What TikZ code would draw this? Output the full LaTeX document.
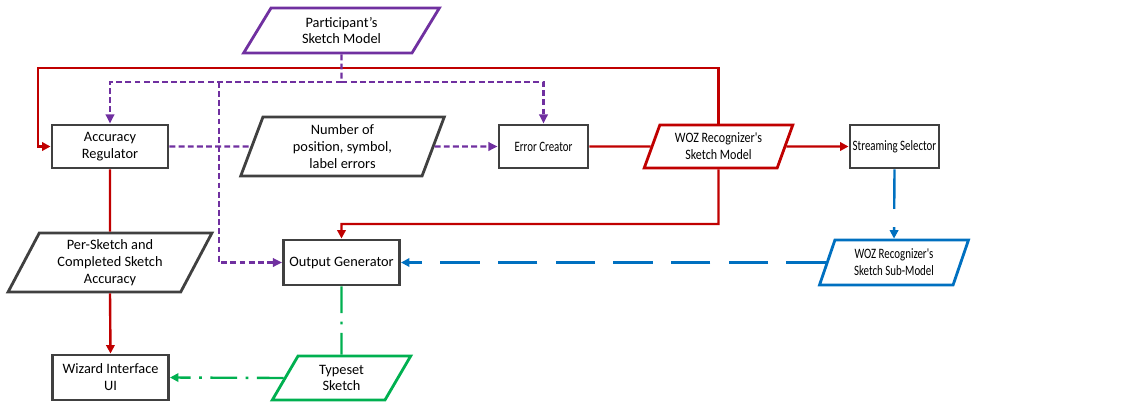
\documentclass[tikz,border=0pt]{standalone}
\usepackage{fontspec}
\setmainfont{Carlito}
\newfontfamily\narrowfont[FakeStretch=0.76]{Carlito}
\newfontfamily\semifont[FakeStretch=0.84]{Carlito}
\usepackage{xcolor}
\usetikzlibrary{arrows.meta,positioning,shapes.geometric}

\definecolor{regred}{HTML}{C00000}
\definecolor{partpurple}{HTML}{7030A0}
\definecolor{subblue}{HTML}{0070C0}
\definecolor{typegreen}{HTML}{00B050}
\definecolor{boxgray}{HTML}{404040}

\begin{document}
\begin{tikzpicture}[
  x=0.025cm, y=-0.025cm,
  box/.style={rectangle, draw=boxgray, line width=2.1pt, fill=white,
              align=center, font=\fontsize{10.2}{12}\selectfont, inner sep=1pt,
              minimum width=2.9cm, minimum height=1.075cm},
  databox/.style={trapezium, trapezium stretches=true, draw=#1,
                  line width=2pt, fill=white, align=center,
                  font=\fontsize{10.2}{12}\selectfont, inner sep=1pt},
  narrow/.style={font=\fontsize{10.2}{12}\narrowfont},
  seminarrow/.style={font=\fontsize{10.2}{12}\semifont},
  redline/.style={draw=regred, line width=1.7pt},
  redarr/.style={redline, -{Triangle[length=6pt,width=6pt]}},
  purpline/.style={draw=partpurple, line width=1.7pt,
                   dash pattern=on 4.2pt off 2.3pt},
  purparr/.style={purpline, -{Triangle[length=6.5pt,width=6pt]}},
  bluearr/.style={draw=subblue, line width=1.7pt,
                  dash pattern=on 28pt off 13pt,
                  -{Triangle[length=6pt,width=6pt]}},
  greenline/.style={draw=typegreen, line width=1.7pt,
                    dash pattern=on 19pt off 6pt on 2pt off 6pt},
  greenarr/.style={greenline, -{Triangle[length=6pt,width=6pt]}},
]
\useasboundingbox (0,0) rectangle (1138,403);

%% Top row -- participant model
\node[databox=partpurple, trapezium left angle=62, trapezium right angle=118,
      minimum width=4.925cm, minimum height=1.125cm] (part) at (341.5,30.5)
  {Participant's\\Sketch Model};

%% Middle row
\node[box] (acc) at (110,146.5) {Accuracy\\Regulator};
\node[databox=boxgray, trapezium left angle=73, trapezium right angle=107,
      minimum width=5.125cm, minimum height=1.475cm] (num) at (342.5,146.5)
  {Number of\\position, symbol,\\label errors};
\node[box, narrow, minimum width=2.225cm] (err) at (543.5,146.5) {Error Creator};
\node[databox=regred, seminarrow, trapezium left angle=68, trapezium right angle=112,
      minimum width=3.725cm, minimum height=1.075cm] (woz) at (718.5,146.5)
  {WOZ Recognizer's\\Sketch Model};
\node[box, narrow, minimum width=2.225cm] (stream) at (894.5,146.5)
  {Streaming Selector};

%% Lower row
\node[databox=boxgray, trapezium left angle=64, trapezium right angle=116,
      minimum width=5.1cm, minimum height=1.475cm] (per) at (110,262.5)
  {Per-Sketch and\\Completed Sketch\\Accuracy};
\node[box, minimum height=1.125cm] (out) at (341.5,262.5) {Output Generator};
\node[databox=subblue, narrow, trapezium left angle=70, trapezium right angle=110,
      minimum width=3.75cm, minimum height=1.125cm] (sub) at (894,262.5)
  {WOZ Recognizer's\\Sketch Sub-Model};

%% Bottom row
\node[box, minimum height=1.125cm] (wiz) at (110.5,377.5)
  {Wizard Interface\\UI};
\node[databox=typegreen, trapezium left angle=64, trapezium right angle=116,
      minimum width=3.475cm, minimum height=1.1cm] (typ) at (341.5,378)
  {Typeset\\Sketch};

%% ── Connectors ──────────────────────────────────────────────
\coordinate (redtop) at (38,68);
\coordinate (pjct) at (341.5,82);
\coordinate (pbr) at (219,82);
\coordinate (wozlow) at (718.5,224);

%% red feedback loop over the top
\draw[redarr] (woz.north) |- (redtop) |- (acc.west);

%% participant model fan-out
\draw[purpline] (part.south) -- (pjct);
\draw[purparr] (pjct) -| (acc.north);
\draw[purparr] (pjct) -| (err.north);
\draw[purparr] (pbr) |- (out.west);

%% error counts
\draw[purpline] (acc.east) -- (num.west);
\draw[purparr] (num.east) -- (err.west);

%% WOZ model chain
\draw[redline] (err.east) -- (woz.west);
\draw[redarr] (woz.east) -- (stream.west);
\draw[redarr] (woz.south) -- (wozlow) -| (out.north);

%% accuracy to wizard
\draw[redline] (acc.south) -- (per.north);
\draw[redarr] (per.south) -- (wiz.north);

%% streamed sub-model
\draw[bluearr] (stream.south) -- (sub.north);
\draw[bluearr] (sub.west) -- (out.east);

%% typeset output
\draw[greenline] (out.south) -- (typ.north);
\draw[greenarr] (typ.west) -- (wiz.east);

\end{tikzpicture}
\end{document}
